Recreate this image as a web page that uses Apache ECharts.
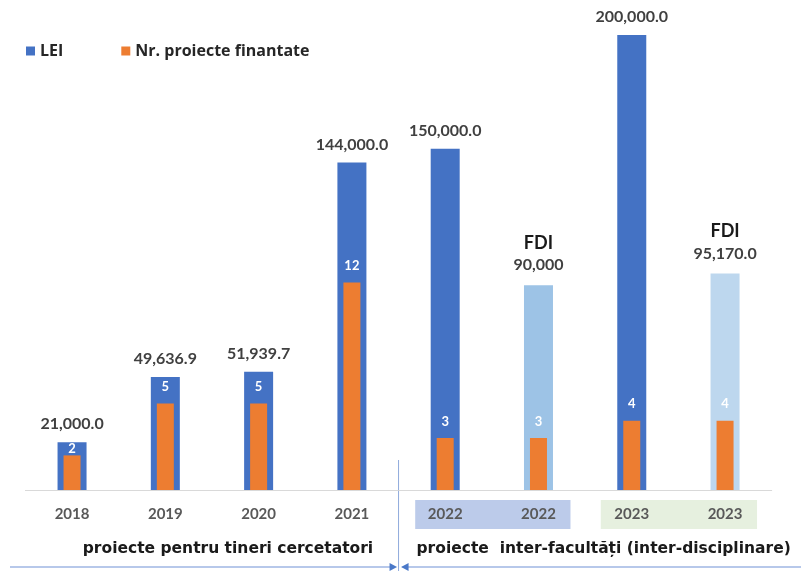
<!DOCTYPE html>
<html><head><meta charset="utf-8">
<script src="https://cdn.jsdelivr.net/npm/echarts@6/dist/echarts.min.js"></script>
<style>html,body{margin:0;padding:0;background:#fff}#c{width:801px;height:571px}</style>
</head><body><div id="c"></div>
<script>
const categories = ['2018','2019','2020','2021','2022','2022','2023','2023'];
const lei = [21000, 49636.9, 51939.7, 144000, 150000, 90000, 200000, 95170];
const leiDecimals = [1,1,1,1,1,0,1,1];
const leiPrefix = ['','','','','','FDI','','FDI'];
const proiecte = [2,5,5,12,3,3,4,4];
const groupLabels = ['proiecte pentru tineri cercetatori', 'proiecte  inter-facultăți (inter-disciplinare)'];

const BLUE = '#4472C4', ORANGE = '#ED7D31';
const barColors = [BLUE, BLUE, BLUE, BLUE, BLUE, '#9DC3E6', BLUE, '#BDD7EE'];
const F = 'Lato, "Open Sans", sans-serif';

const chart = echarts.init(document.getElementById('c'));
const fmt = (v, d) => v.toLocaleString('en-US', {minimumFractionDigits: d, maximumFractionDigits: d});

chart.setOption({
  animation: false,
  legend: {
    left: 21, top: 38, itemWidth: 9, itemHeight: 9, itemGap: 58, icon: 'rect',
    textStyle: {fontFamily: '"Open Sans", sans-serif', fontWeight: 'bold', fontSize: 16, color: '#262626'},
    data: ['LEI', 'Nr. proiecte finantate']
  },
  grid: {left: 25.4, right: 29.3, top: 35, bottom: 81},
  xAxis: [{
    type: 'category', data: categories,
    axisLine: {lineStyle: {color: '#D9D9D9', width: 1}},
    axisTick: {show: false},
    axisLabel: {margin: 17, fontFamily: F, fontWeight: 'bold', fontSize: 15, color: '#595959'}
  }, {
    type: 'category', data: categories, show: false
  }],
  yAxis: [
    {type: 'value', min: 0, max: 200000, show: false, splitLine: {show: false}},
    {type: 'value', min: 0, max: 26.3, show: false, splitLine: {show: false}}
  ],
  series: [{
    name: 'LEI', type: 'bar', xAxisIndex: 0, yAxisIndex: 0, barWidth: 29,
    itemStyle: {color: BLUE},
    data: lei.map((v, i) => ({value: v, itemStyle: {color: barColors[i]}})),
    label: {
      show: true, position: 'top', distance: 10,
      fontFamily: F, fontWeight: 'bold', fontSize: 16, color: '#404040',
      formatter: p => leiPrefix[p.dataIndex]
        ? '{f|' + leiPrefix[p.dataIndex] + '}\n{v|' + fmt(p.value, leiDecimals[p.dataIndex]) + '}'
        : fmt(p.value, leiDecimals[p.dataIndex]),
      rich: {
        f: {fontFamily: F, fontWeight: 'bold', fontSize: 18, color: '#1a1a1a', lineHeight: 24},
        v: {fontFamily: F, fontWeight: 'bold', fontSize: 16, color: '#404040', lineHeight: 20}
      }
    },
    z: 2
  }, {
    name: 'Nr. proiecte finantate', type: 'bar', xAxisIndex: 1, yAxisIndex: 1, barWidth: 17,
    itemStyle: {color: ORANGE},
    data: proiecte.map((v, i) => i === 0 ? {value: v, label: {distance: 0}} : v),
    label: {show: true, position: 'top', distance: 10, fontFamily: F, fontWeight: 'bold', fontSize: 13, color: '#FFFFFF'},
    z: 3
  }]
});

function px(i) { return chart.convertToPixel({xAxisIndex: 0}, i); }
const x = categories.map((c, i) => px(i));
const divX = (x[3] + x[4]) / 2;
const arrowY = 567;
const TXT = {fontFamily: '"DejaVu Sans", sans-serif', fontWeight: 'bold', fontSize: 15.5, fill: '#1a1a1a'};
chart.setOption({
  graphic: [
    {type: 'rect', z: -10, shape: {x: x[4] - 30, y: 500, width: x[5] - x[4] + 62, height: 29}, style: {fill: '#BCCBEA'}},
    {type: 'rect', z: -10, shape: {x: x[6] - 31, y: 500, width: x[7] - x[6] + 63, height: 29}, style: {fill: '#E6F0DF'}},
    {type: 'line', shape: {x1: divX, y1: 460, x2: divX, y2: 571}, style: {stroke: '#8FAADC', lineWidth: 1}},
    {type: 'text', x: (x[0] + x[3]) / 2 + 16, y: 549, style: Object.assign({text: groupLabels[0], align: 'center', verticalAlign: 'middle'}, TXT)},
    {type: 'text', x: (x[4] + x[7]) / 2 + 18.5, y: 549, style: Object.assign({text: groupLabels[1], align: 'center', verticalAlign: 'middle'}, TXT)},
    {type: 'line', shape: {x1: 10, y1: arrowY, x2: divX - 4, y2: arrowY}, style: {stroke: '#9FB6E3', lineWidth: 1.5}},
    {type: 'polygon', shape: {points: [[divX - 1.5, arrowY], [divX - 9, arrowY - 4], [divX - 9, arrowY + 4]]}, style: {fill: '#4A78C8'}},
    {type: 'line', shape: {x1: divX + 4, y1: arrowY, x2: 801, y2: arrowY}, style: {stroke: '#9FB6E3', lineWidth: 1.5}},
    {type: 'polygon', shape: {points: [[divX + 2.5, arrowY], [divX + 10, arrowY - 4], [divX + 10, arrowY + 4]]}, style: {fill: '#4A78C8'}}
  ]
});
</script></body></html>
